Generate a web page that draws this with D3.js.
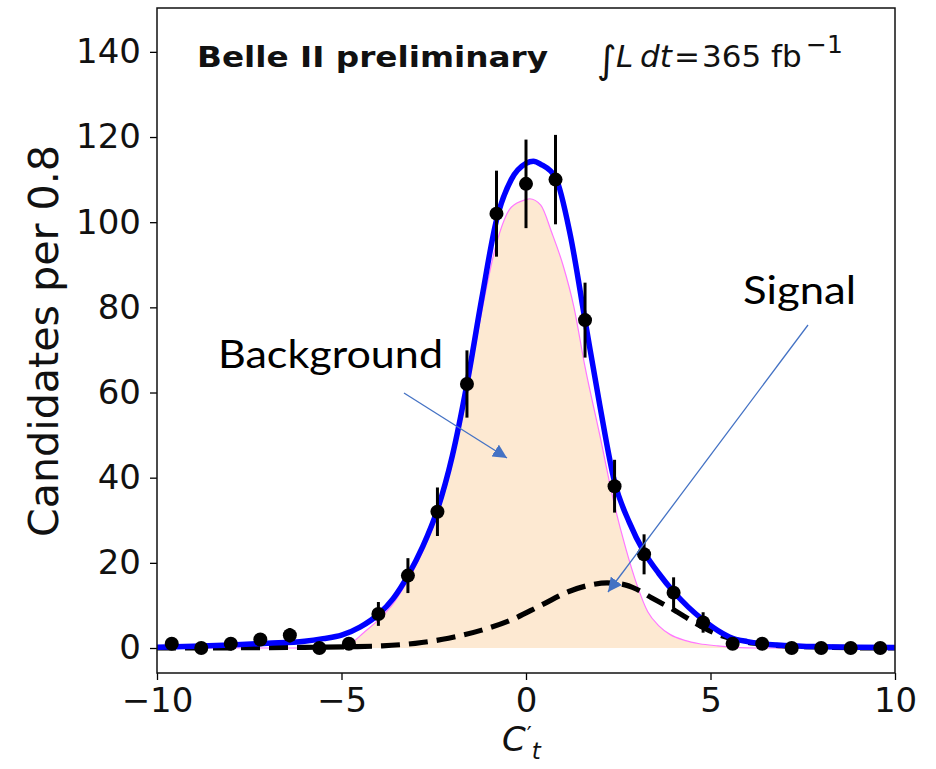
<!DOCTYPE html>
<html>
<head>
<meta charset="utf-8">
<script src="https://cdn.jsdelivr.net/npm/d3@7"></script>
<style>
  html, body { margin: 0; padding: 0; background: #ffffff; }
  svg { display: block; }
</style>
</head>
<body>
<svg id="chart" width="936" height="769"></svg>
<script>
// Binned data: C't bin centres (bin width 0.8) and candidate counts
const binCenters = [-9.6, -8.8, -8.0, -7.2, -6.4, -5.6, -4.8, -4.0, -3.2, -2.4, -1.6, -0.8,
                    0.0, 0.8, 1.6, 2.4, 3.2, 4.0, 4.8, 5.6, 6.4, 7.2, 8.0, 8.8, 9.6];
const counts = [1, 0, 1, 2, 3, 0, 1, 8, 17, 32, 62, 102,
                109, 110, 77, 38, 22, 13, 6, 1, 1, 0, 0, 0, 0];
const countErrors = [1, 0, 1, 1.4, 1.7, 0, 1, 2.8, 4.1, 5.7, 7.9, 10.1,
                     10.4, 10.5, 8.8, 6.2, 4.7, 3.6, 2.4, 1, 1, 0, 0, 0, 0];

// Total fit curve
const totalX = [-10, -9, -8, -7, -6, -5.5, -5, -4.5, -4, -3.6, -3.2, -2.8, -2.4, -2, -1.6, -1.2,
                -0.8, -0.4, 0, 0.2, 0.4, 0.8, 1.2, 1.6, 2, 2.4, 2.8, 3.2, 3.6, 4, 4.4, 4.8,
                5.2, 5.6, 6, 6.5, 7, 8, 9, 10];
const totalY = [0.2, 0.4, 0.7, 1.1, 1.6, 2.2, 3.0, 4.9, 7.9, 11.6, 17.0, 23.8, 32.5, 45, 62, 82,
                100.5, 110, 113.8, 114.3, 113.6, 110.5, 97, 77, 57, 39, 29.5, 22.5, 17.5, 13.2, 9.6, 6.6,
                4.1, 2.3, 1.5, 0.9, 0.6, 0.3, 0.15, 0.1];

// Background component
const bkgX = [-10, -5.4, -5.0, -4.7, -4.4, -4.0, -3.6, -3.2, -2.8, -2.4, -2.0, -1.6, -1.2, -0.8,
              -0.4, 0, 0.1, 0.4, 0.7, 1.0, 1.3, 1.6, 2.0, 2.4, 2.7, 3.0, 3.3, 3.6, 3.9, 4.3,
              4.7, 5.2, 5.6, 6.0, 6.5, 10];
const bkgY = [0, 0, 0.3, 1.4, 3.6, 6.6, 10.4, 15.9, 22.6, 31.2, 43.5, 60, 79, 95,
              103.5, 105.3, 105.5, 104, 97.5, 90, 80, 66, 50, 33.5, 23.5, 15, 8.5, 5.2, 3.2, 1.8,
              1.0, 0.5, 0.2, 0.05, 0, 0];

// Signal component
const sigX = [-10, -8, -6, -4.8, -3.9, -3, -2.1, -1.2, -0.4, 0.4, 1.2, 1.8, 2.2, 2.6, 3.0, 3.4,
              4.0, 4.6, 5.2, 5.8, 6.4, 7.2, 8, 9, 10];
const sigY = [0, 0.05, 0.15, 0.3, 0.5, 1.1, 2.3, 4.2, 6.6, 10, 13.4, 14.9, 15.3, 15, 13.8, 11.8,
              9.0, 5.8, 3.2, 1.7, 0.9, 0.4, 0.2, 0.05, 0];

const xTicks = [-10, -5, 0, 5, 10];
const yTicks = [0, 20, 40, 60, 80, 100, 120, 140];

const svg = d3.select("#chart");
const plot = { left: 157, right: 895, top: 8, bottom: 673 };

const x = d3.scaleLinear().domain([-10, 10]).range([plot.left, plot.right]);
const y = d3.scaleLinear().domain([-5.87, 150.3]).range([plot.bottom, plot.top]);

const zip = (xs, ys) => xs.map((v, i) => [v, ys[i]]);

svg.append("clipPath").attr("id", "plot-clip")
  .append("rect")
  .attr("x", plot.left).attr("y", plot.top)
  .attr("width", plot.right - plot.left).attr("height", plot.bottom - plot.top);

const g = svg.append("g").attr("clip-path", "url(#plot-clip)");

// Background: filled area with a thin violet outline
const area = d3.area()
  .x(d => x(d[0])).y0(y(0)).y1(d => y(d[1]))
  .curve(d3.curveMonotoneX);
const line = d3.line()
  .x(d => x(d[0])).y(d => y(d[1]))
  .curve(d3.curveMonotoneX);

g.append("path")
  .attr("d", area(zip(bkgX, bkgY)))
  .attr("fill", "#fde9d2");
g.append("path")
  .attr("d", line(zip(bkgX, bkgY)))
  .attr("fill", "none")
  .attr("stroke", "#ff77ff")
  .attr("stroke-width", 1.2);

// Signal component (dashed)
g.append("path")
  .attr("d", line(zip(sigX, sigY)))
  .attr("fill", "none")
  .attr("stroke", "#000")
  .attr("stroke-width", 5.2)
  .attr("stroke-dasharray", "19,9");

// Total fit
g.append("path")
  .attr("d", line(zip(totalX, totalY)))
  .attr("fill", "none")
  .attr("stroke", "#0000ff")
  .attr("stroke-width", 5.5);

// Data points with error bars
const pts = binCenters.map((c, i) => ({ x: c, n: counts[i], e: countErrors[i] }));
g.selectAll("line.err").data(pts.filter(d => d.e > 0)).join("line")
  .attr("class", "err")
  .attr("x1", d => x(d.x)).attr("x2", d => x(d.x))
  .attr("y1", d => y(d.n - d.e)).attr("y2", d => y(d.n + d.e))
  .attr("stroke", "#000").attr("stroke-width", 3);
g.selectAll("circle.pt").data(pts).join("circle")
  .attr("class", "pt")
  .attr("cx", d => x(d.x)).attr("cy", d => y(d.n))
  .attr("r", 7)
  .attr("fill", "#000");

// Axes
const tickFont = "DejaVu Sans, sans-serif";
const xAxis = d3.axisBottom(x).tickValues(xTicks).tickSize(7).tickPadding(8)
  .tickFormat(d => d < 0 ? "\u2212" + Math.abs(d) : String(d));
const yAxis = d3.axisLeft(y).tickValues(yTicks).tickSize(7).tickPadding(9);

const gx = svg.append("g").attr("transform", `translate(0,${plot.bottom})`).call(xAxis);
const gy = svg.append("g").attr("transform", `translate(${plot.left},0)`).call(yAxis);
[gx, gy].forEach(a => {
  a.select(".domain").remove();
  a.selectAll(".tick line").attr("stroke", "#000").attr("stroke-width", 1.3);
  a.selectAll(".tick text")
    .attr("fill", "#111")
    .style("font-family", tickFont)
    .style("font-size", "34px");
});

// Frame
svg.append("rect")
  .attr("x", plot.left).attr("y", plot.top)
  .attr("width", plot.right - plot.left).attr("height", plot.bottom - plot.top)
  .attr("fill", "none").attr("stroke", "#111").attr("stroke-width", 1.5);

// Axis titles
svg.append("text")
  .attr("transform", "translate(58,341) rotate(-90)")
  .attr("text-anchor", "middle")
  .style("font-family", tickFont)
  .style("font-size", "40px")
  .attr("fill", "#111")
  .attr("textLength", 392)
  .attr("lengthAdjust", "spacingAndGlyphs")
  .text("Candidates per 0.8");

// x title: C' with subscript t
const xTitle = svg.append("text")
  .attr("x", 502).attr("y", 751)
  .style("font-family", tickFont)
  .style("font-size", "34px")
  .attr("fill", "#111");
xTitle.append("tspan").style("font-style", "italic").text("C");
xTitle.append("tspan").attr("dy", -9).attr("dx", 1).style("font-size", "22px").text("\u2032");
xTitle.append("tspan").attr("dy", 17).attr("dx", 0).style("font-size", "23px")
  .style("font-style", "italic").text("t");

// Header labels
svg.append("text")
  .attr("x", 197).attr("y", 67)
  .style("font-family", tickFont)
  .style("font-size", "28px")
  .style("font-weight", "bold")
  .attr("fill", "#111")
  .attr("textLength", 351)
  .attr("lengthAdjust", "spacingAndGlyphs")
  .text("Belle II preliminary");

const lum = svg.append("g").style("font-family", tickFont).attr("fill", "#111");
lum.append("text").attr("x", 597).attr("y", 73).style("font-size", "38px").text("\u222B");
lum.append("text").attr("x", 616).attr("y", 67).style("font-size", "31px")
  .style("font-style", "italic").text("L");
lum.append("text").attr("x", 640).attr("y", 67).style("font-size", "31px")
  .style("font-style", "italic").text("dt");
lum.append("text").attr("x", 674).attr("y", 67).style("font-size", "31px").text("=");
lum.append("text").attr("x", 702).attr("y", 67).style("font-size", "31px").text("365");
lum.append("text").attr("x", 771).attr("y", 67).style("font-size", "31px").text("fb");
lum.append("text").attr("x", 806).attr("y", 53).style("font-size", "25px").text("\u22121");

// Annotations with arrows
const defs = svg.append("defs");
defs.append("marker")
  .attr("id", "arrow-head")
  .attr("viewBox", "0 0 10 10")
  .attr("refX", 10).attr("refY", 5)
  .attr("markerWidth", 14).attr("markerHeight", 14)
  .attr("markerUnits", "userSpaceOnUse")
  .attr("orient", "auto")
  .append("path").attr("d", "M0,0 L10,5 L0,10 Z").attr("fill", "#4472c4");

const annFont = "Lato, 'Open Sans', sans-serif";
svg.append("text")
  .attr("x", 218).attr("y", 368)
  .style("font-family", annFont).style("font-size", "38px")
  .attr("fill", "#000")
  .attr("textLength", 225).attr("lengthAdjust", "spacingAndGlyphs")
  .text("Background");
svg.append("text")
  .attr("x", 743).attr("y", 304)
  .style("font-family", annFont).style("font-size", "38px")
  .attr("fill", "#000")
  .attr("textLength", 113).attr("lengthAdjust", "spacingAndGlyphs")
  .text("Signal");

svg.append("line")
  .attr("x1", 404).attr("y1", 393).attr("x2", 507).attr("y2", 458)
  .attr("stroke", "#4472c4").attr("stroke-width", 1.3)
  .attr("marker-end", "url(#arrow-head)");
svg.append("line")
  .attr("x1", 808).attr("y1", 325).attr("x2", 608).attr("y2", 592)
  .attr("stroke", "#4472c4").attr("stroke-width", 1.3)
  .attr("marker-end", "url(#arrow-head)");
</script>
</body>
</html>
